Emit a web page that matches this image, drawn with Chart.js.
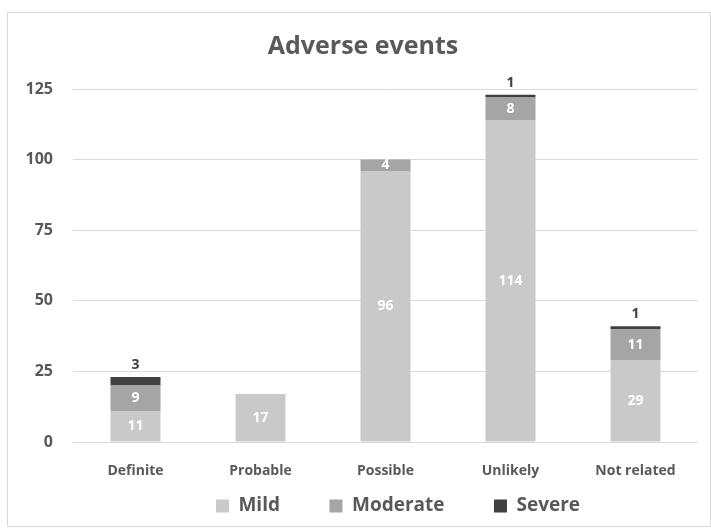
<!DOCTYPE html>
<html>
<head>
<meta charset="utf-8">
<script src="https://cdn.jsdelivr.net/npm/chart.js@4"></script>
<style>
  html, body { margin: 0; padding: 0; background: #fff; }
  #wrap { position: relative; width: 711px; height: 530px; }
  #frame { position: absolute; left: 7px; top: 12px; width: 702px; height: 513px; border: 1px solid #d9d9d9; pointer-events: none; }
</style>
</head>
<body>
<div id="wrap">
  <canvas id="adverseChart" width="711" height="530"></canvas>
  <div id="frame"></div>
</div>
<script>
const categories = ["Definite", "Probable", "Possible", "Unlikely", "Not related"];
const mild = [11, 17, 96, 114, 29];
const moderate = [9, 0, 4, 8, 11];
const severe = [3, 0, 0, 1, 1];
const yTicks = [0, 25, 50, 75, 100, 125];

const textColor = "#595959";
const fontFamily = "'Open Sans', 'Noto Sans', sans-serif";

// labels on the bars: white inside for mild/moderate, dark above for severe
const barLabels = {
  id: "barLabels",
  afterDatasetsDraw(chart) {
    const ctx = chart.ctx;
    ctx.save();
    ctx.font = "bold 14px " + fontFamily;
    ctx.textAlign = "center";
    ctx.textBaseline = "middle";
    chart.data.datasets.forEach((ds, i) => {
      const meta = chart.getDatasetMeta(i);
      meta.data.forEach((bar, j) => {
        const v = ds.data[j];
        if (!v) return;
        if (i < 2) {
          ctx.fillStyle = "#ffffff";
          ctx.fillText(String(v), bar.x, (bar.y + bar.base) / 2);
        } else {
          ctx.fillStyle = "#404040";
          ctx.fillText(String(v), bar.x, bar.y - 12);
        }
      });
    });
    ctx.restore();
  }
};

// title and legend sit a bit right of the canvas centre in the original
const shiftBlocks = {
  id: "shiftBlocks",
  afterLayout(chart) {
    if (chart.titleBlock) chart.titleBlock.left += 28;
    if (chart.legend) chart.legend.left += 98;
  }
};

new Chart(document.getElementById("adverseChart"), {
  type: "bar",
  data: {
    labels: categories,
    datasets: [
      { label: "Mild", data: mild, backgroundColor: "#c9c9c9" },
      { label: "Moderate", data: moderate, backgroundColor: "#a5a5a5" },
      { label: "Severe", data: severe, backgroundColor: "#404040" }
    ]
  },
  options: {
    responsive: false,
    animation: false,
    layout: { padding: { top: 0, left: 0, right: 13, bottom: 4.5 } },
    datasets: {
      bar: { barPercentage: 0.4, categoryPercentage: 1, borderWidth: 0 }
    },
    scales: {
      x: {
        stacked: true,
        grid: { display: false },
        border: { display: false },
        ticks: { color: textColor, font: { family: fontFamily, size: 14, weight: "bold" }, padding: 13 },
        afterFit(s) { s.height = 44.5; }
      },
      y: {
        stacked: true,
        min: 0,
        max: 125,
        afterBuildTicks(s) { s.ticks = yTicks.map((v) => ({ value: v })); },
        grid: { color: "#d9d9d9", drawTicks: false },
        border: { display: false },
        ticks: { color: textColor, font: { family: fontFamily, size: 16, weight: "bold" }, padding: 20 },
        afterFit(s) { s.width = 73; }
      }
    },
    plugins: {
      title: {
        display: true,
        text: "Adverse events",
        color: textColor,
        font: { family: fontFamily, size: 25, weight: "bold" },
        padding: { top: 32, bottom: 27 }
      },
      legend: {
        position: "bottom",
        labels: {
          color: textColor,
          font: { family: fontFamily, size: 19, weight: "bold" },
          boxWidth: 13,
          boxHeight: 13,
          padding: 10,
          generateLabels(chart) {
            const items = Chart.defaults.plugins.legend.labels.generateLabels(chart);
            items.forEach((it, i) => {
              it.lineWidth = 0;
              if (i < items.length - 1) it.text = it.text + "        ";
            });
            return items;
          }
        }
      },
      tooltip: { enabled: false }
    }
  },
  plugins: [barLabels, shiftBlocks]
});
</script>
</body>
</html>
